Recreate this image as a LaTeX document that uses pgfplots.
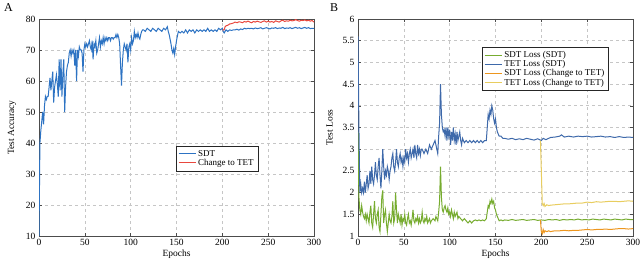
\documentclass[border=0pt]{standalone}
\usepackage{pgfplots}
\pgfplotsset{compat=1.18}
\usepackage{fontspec}
\setmainfont{Liberation Serif}
\definecolor{lblue}{RGB}{45,115,195}
\definecolor{lred}{RGB}{232,72,62}
\definecolor{rgreen}{RGB}{119,172,48}
\definecolor{rblue}{RGB}{62,105,170}
\definecolor{rorange}{RGB}{237,150,30}
\definecolor{ryellow}{RGB}{232,205,95}
\pgfplotsset{
  myax/.style={
    scale only axis, width=275pt, height=217pt,
    xmin=0, xmax=300, xtick={0,50,...,300},
    grid=major, major grid style={dashed, gray!45, line width=0.6pt},
    axis line style={gray!60!black, line width=0.7pt},
    tick style={gray!60!black, line width=0.5pt},
    tick align=inside, major tick length=3pt,
    ticklabel style={font=\fontsize{9.5}{10}\selectfont},
    label style={font=\fontsize{9.5}{10}\selectfont},
    /pgf/number format/assume math mode=true,
    xlabel={Epochs},
    xlabel style={yshift=3pt},
    ylabel style={yshift=3pt},
    legend cell align=left,
    legend image post style={line width=1pt},
    legend style={font=\fontsize{9}{10}\selectfont, draw=gray!30!black, inner sep=2pt, row sep=-2.5pt},
  }
}
\begin{document}
\begin{tikzpicture}[x=1pt,y=1pt]
\useasboundingbox (0,0) rectangle (640,264);
\node[anchor=north west, font=\fontsize{12}{13}\selectfont, inner sep=0pt] at (4,261) {A};
\node[anchor=north west, font=\fontsize{12}{13}\selectfont, inner sep=0pt] at (330,261) {B};
\begin{axis}[myax, at={(39pt,28pt)}, anchor=south west,
  ymin=10, ymax=80, ytick={10,20,...,80},
  ylabel={Test Accuracy},
  legend style={at={(0.498,0.415)}, anchor=north west}]
\addplot[draw=lblue, line width=1pt] coordinates {
(0,10)(1,40)(2,44)(3,47)(4,50)(5,46)(6,52)(7,55)(8,54)(9,55)(10,55)(11,58)(12,61)(13,57)(14,60)(15,63)(16,53)(17,58)(18,60)(19,62)(20,59)(21,55)(22,67)(23,57)(24,67)(25,55)(26,62)(27,67)(28,50)(29,58)(30,63)(31,65)(32,66)(33,69)(34,70)(35,68)(36,70)(37,69)(38,70)(39,65)(40,70)(41,60)(42,70)(43,68)(44,71)(45,70)(46,70)(47,69)(48,63)(49,70)(50,72)(51,71)(52,72)(53,71)(54,72)(55,73)(56,71)(57,70)(58,73)(59,67)(60,72)(61,71)(62,73)(63,69)(64,70)(65,72)(66,74)(67,71)(68,73)(69,72)(70,74)(71,72)(72,74)(73,73)(74,74)(75,73)(76,74)(77,74)(78,73)(79,74)(80,74)(81,73.5)(82,74)(83,74)(84,75)(85,74)(86,75)(87,74)(88,72)(89,65)(90,58.5)(91,66)(92,70)(93,72)(94,71)(95,70)(96,72)(97,66)(98,71)(99,72)(100,70)(101,74)(102,72)(103,73)(104,76)(105,74)(106,75)(107,74)(108,75.5)(109,74)(110,73.5)(111,75)(112,76)(113,76.5)(114,76.5)(116,76)(118,77)(120,76.5)(122,76)(124,77)(126,76.5)(128,76)(130,77)(132,76.5)(134,76)(136,77)(138,76.5)(140,77.5)(141,76)(142,75)(143,73.5)(144,72)(145,70)(146,69)(147,70.5)(148,68.5)(149,71)(150,73)(151,74.5)(152,76)(154,75.5)(156,76)(158,75.5)(160,76.5)(162,75.5)(164,76.5)(166,76)(168,76.5)(170,75.5)(172,76.5)(174,76)(176,76.5)(178,76)(180,76.5)(182,76)(184,77)(186,76)(188,76.5)(190,76)(192,76.5)(194,76)(196,77)(198,76.5)(200,77)(201,76)(202,75.5)(204,76.5)(206,76)(208,76.5)(210,76.3)(212,76.5)(214,76.5)(216,76.7)(218,76.4)(220,76.8)(222,76.6)(224,77)(226,76.8)(228,77)(230,76.9)(232,77)(234,76.8)(236,77.1)(238,76.9)(240,77)(242,77.2)(244,76.8)(246,77)(248,77.2)(250,77)(252,76.8)(254,77.1)(256,77)(258,77.2)(260,76.9)(262,77.1)(264,77)(266,77.3)(268,76.9)(270,77.1)(272,77)(274,77.2)(276,76.9)(278,77.1)(280,77.3)(282,77)(284,77.2)(286,76.9)(288,77.1)(290,77.3)(292,77)(294,77.2)(296,76.9)(298,77)(300,77)
};
\addlegendentry{SDT}
\addplot[draw=lred, line width=1pt] coordinates {
(200,76.5)(202,76.5)(203,77.5)(204,77.8)(206,78)(208,78.4)(210,78.5)(212,78.7)(214,79)(216,78.8)(218,79.1)(220,79)(222,78.8)(224,79.2)(226,79)(228,79.3)(230,79)(232,78.8)(234,79.2)(236,79)(238,79.3)(240,79.1)(242,78.9)(244,79.2)(246,79.4)(248,79)(250,79.3)(252,79)(254,79.2)(256,78.9)(258,79.4)(260,79.2)(262,79)(264,79.4)(266,79.6)(268,79.2)(270,79.4)(272,79.3)(274,79.6)(276,79.4)(278,79.5)(280,79.8)(282,79.5)(284,79.3)(286,79.6)(288,79.5)(290,79.7)(292,79.4)(294,79.6)(296,79.3)(298,79.5)(300,79)
};
\addlegendentry{Change to TET}
\end{axis}
\begin{axis}[myax, at={(358pt,28pt)}, anchor=south west,
  ymin=1, ymax=6, ytick={1,1.5,...,6},
  yticklabels={1,1.5,2,2.5,3,3.5,4,4.5,5,5.5,6},
  ylabel={Test Loss},
  legend style={at={(0.451,0.871)}, anchor=north west}]
\addplot[draw=rgreen, line width=1pt] coordinates {
(0,3.4)(1,1.9)(2,1.6)(3,1.5)(4,1.7)(5,1.55)(6,1.45)(7,1.4)(8,1.5)(9,1.35)(10,1.5)(11,1.4)(12,1.3)(13,1.55)(14,1.7)(15,1.3)(16,1.2)(17,1.5)(18,1.8)(19,1.4)(20,1.3)(21,1.5)(22,1.6)(23,1.2)(24,1.1)(25,1.5)(26,1.9)(27,2.05)(28,1.3)(29,1.5)(30,1.6)(31,1.3)(32,1.1)(33,1.3)(34,1.5)(35,1.35)(36,1.3)(37,1.45)(38,1.8)(39,1.3)(40,1.4)(41,2.0)(42,1.6)(43,1.3)(44,1.5)(45,1.4)(46,1.3)(47,1.5)(48,1.25)(49,1.4)(50,1.35)(51,1.5)(52,1.3)(53,1.25)(54,1.4)(55,1.5)(56,1.3)(57,1.35)(58,1.25)(59,1.4)(60,1.6)(61,1.35)(62,1.3)(63,1.4)(64,1.35)(65,1.45)(66,1.3)(67,1.4)(68,1.3)(69,1.35)(70,1.55)(71,1.35)(72,1.3)(73,1.4)(74,1.35)(75,1.45)(76,1.3)(77,1.35)(78,1.4)(79,1.3)(80,1.35)(82,1.4)(84,1.35)(85,1.45)(86,1.4)(87,1.35)(88,1.55)(89,1.8)(90,2.6)(91,1.9)(92,1.6)(93,1.55)(94,1.65)(95,1.7)(96,1.6)(97,1.55)(98,1.65)(99,1.5)(100,1.55)(101,1.45)(102,1.6)(103,1.5)(104,1.4)(105,1.55)(106,1.45)(107,1.5)(108,1.55)(109,1.4)(110,1.45)(112,1.4)(114,1.35)(116,1.4)(118,1.35)(120,1.3)(122,1.35)(124,1.3)(126,1.35)(128,1.37)(130,1.35)(132,1.37)(134,1.35)(136,1.37)(138,1.35)(140,1.4)(141,1.55)(142,1.7)(143,1.65)(144,1.8)(145,1.75)(146,1.85)(147,1.75)(148,1.8)(149,1.65)(150,1.6)(151,1.5)(152,1.45)(153,1.4)(154,1.35)(156,1.37)(158,1.35)(160,1.37)(164,1.36)(168,1.38)(172,1.36)(176,1.37)(180,1.38)(184,1.36)(188,1.37)(192,1.38)(196,1.36)(200,1.37)(204,1.36)(208,1.38)(212,1.37)(216,1.38)(220,1.36)(224,1.38)(228,1.37)(232,1.38)(236,1.37)(240,1.39)(244,1.37)(248,1.38)(252,1.37)(256,1.39)(260,1.38)(264,1.37)(268,1.39)(272,1.38)(276,1.37)(280,1.39)(284,1.38)(288,1.37)(292,1.39)(296,1.38)(300,1.38)
};
\addlegendentry{SDT Loss (SDT)}
\addplot[draw=rblue, line width=1pt] coordinates {
(0,5.6)(1,3.5)(2,2.0)(3,2.2)(4,2.0)(5,2.1)(6,2.0)(7,2.25)(8,2.0)(9,2.2)(10,2.4)(11,2.1)(12,2.2)(13,2.5)(14,2.2)(15,2.6)(16,2.3)(17,2.2)(18,2.4)(19,2.7)(20,2.4)(21,2.3)(22,2.6)(23,2.8)(24,2.4)(25,2.1)(26,2.5)(27,3.0)(28,2.6)(29,2.3)(30,2.5)(31,2.4)(32,2.6)(33,2.5)(34,2.3)(35,2.5)(36,2.6)(37,2.8)(38,2.9)(39,2.6)(40,2.5)(41,2.7)(42,3.0)(43,2.7)(44,2.6)(45,2.8)(46,2.9)(47,2.7)(48,2.8)(49,2.6)(50,2.8)(51,2.7)(52,3.0)(53,2.8)(54,2.9)(55,2.7)(56,2.9)(57,3.0)(58,2.8)(59,2.9)(60,3.0)(61,2.8)(62,3.1)(63,2.9)(64,2.8)(65,3.1)(66,2.9)(67,3.0)(68,2.85)(69,3.0)(70,3.0)(72,2.9)(74,3.0)(76,2.9)(78,3.1)(80,3.0)(82,3.1)(84,3.2)(85,3.1)(86,3.0)(87,2.9)(88,3.3)(89,3.6)(90,4.5)(91,3.8)(92,3.5)(93,3.4)(94,3.45)(95,3.3)(96,3.5)(97,3.2)(98,3.5)(99,3.3)(100,3.45)(101,3.1)(102,3.4)(103,3.2)(104,3.5)(105,3.2)(106,3.35)(107,3.1)(108,3.4)(109,3.2)(110,3.3)(111,3.4)(112,3.2)(113,3.1)(114,3.25)(116,3.15)(118,3.2)(120,3.15)(122,3.2)(124,3.15)(126,3.2)(128,3.15)(130,3.2)(132,3.15)(134,3.2)(136,3.15)(138,3.2)(140,3.2)(141,3.5)(142,3.8)(143,3.7)(144,3.9)(145,3.8)(146,4.0)(147,3.9)(148,3.7)(149,3.6)(150,3.7)(151,3.5)(152,3.4)(153,3.35)(154,3.3)(156,3.3)(158,3.25)(160,3.25)(164,3.23)(168,3.25)(172,3.22)(176,3.24)(180,3.22)(184,3.25)(188,3.23)(192,3.21)(196,3.24)(200,3.2)(202,3.25)(205,3.22)(210,3.27)(215,3.28)(220,3.3)(222,3.33)(225,3.28)(230,3.3)(235,3.28)(240,3.3)(245,3.29)(250,3.3)(255,3.28)(260,3.29)(265,3.3)(270,3.28)(275,3.29)(280,3.27)(285,3.29)(290,3.27)(295,3.28)(300,3.27)
};
\addlegendentry{TET Loss (SDT)}
\addplot[draw=rorange, line width=1pt] coordinates {
(199,1.37)(200,1.1)(201,1.05)(202,1.15)(203,1.08)(204,1.12)(206,1.1)(208,1.12)(210,1.1)(212,1.11)(215,1.12)(220,1.12)(225,1.13)(230,1.12)(235,1.13)(240,1.13)(245,1.14)(250,1.15)(255,1.14)(260,1.15)(265,1.15)(270,1.16)(275,1.15)(280,1.16)(285,1.17)(290,1.17)(295,1.16)(300,1.17)
};
\addlegendentry{SDT Loss (Change to TET)}
\addplot[draw=ryellow, line width=1pt] coordinates {
(199,3.2)(200,2.5)(201,1.75)(202,1.7)(203,1.75)(204,1.68)(206,1.72)(208,1.7)(210,1.71)(215,1.72)(220,1.73)(225,1.74)(230,1.74)(235,1.75)(240,1.76)(245,1.76)(250,1.78)(255,1.77)(260,1.79)(265,1.78)(270,1.79)(275,1.8)(280,1.8)(285,1.79)(290,1.8)(295,1.81)(300,1.8)
};
\addlegendentry{TET Loss (Change to TET)}
\end{axis}
\end{tikzpicture}
\end{document}
